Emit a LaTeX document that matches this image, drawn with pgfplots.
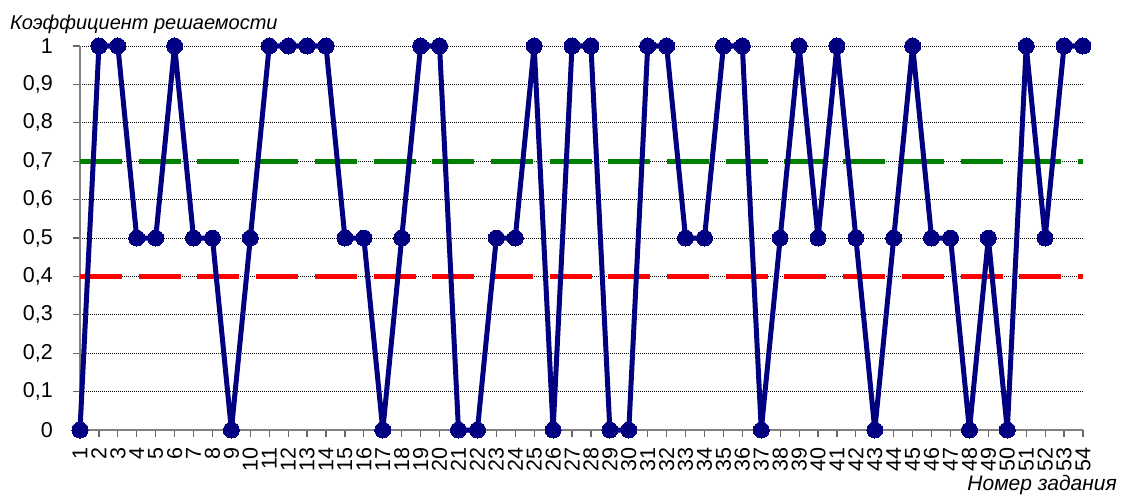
\documentclass[border=0pt]{standalone}
\usepackage{pgfplots}
\pgfplotsset{compat=1.18}
\usepackage{fontspec}
\setmainfont{Liberation Sans}
\newcommand\fs{\fontsize{21.5}{24}\selectfont}
\definecolor{navyc}{RGB}{0,0,128}
\definecolor{greenc}{RGB}{0,128,0}
\definecolor{redc}{RGB}{255,0,0}
\definecolor{axisgray}{RGB}{128,128,128}
\begin{document}
\begin{tikzpicture}
\useasboundingbox (-80pt,-69pt) rectangle (1041pt,430pt);
\begin{axis}[
  at={(0pt,0pt)}, anchor=south west,
  scale only axis, width=1003pt, height=384pt,
  xmin=1, xmax=54, ymin=0, ymax=1,
  clip=false,
  axis x line*=bottom, axis y line*=left,
  axis line style={axisgray, line width=1.5pt},
  tick align=outside, major tick length=7pt,
  tick style={black!60, line width=1.2pt},
  xtick={1,...,54},
  ytick={0,0.1,0.2,0.3,0.4,0.5,0.6,0.7,0.8,0.9,1},
  yticklabels={0,{0,1},{0,2},{0,3},{0,4},{0,5},{0,6},{0,7},{0,8},{0,9},1},
  xticklabels={1,2,3,4,5,6,7,8,9,10,11,12,13,14,15,16,17,18,19,20,21,22,23,24,25,26,27,28,29,30,31,32,33,34,35,36,37,38,39,40,41,42,43,44,45,46,47,48,49,50,51,52,53,54},
  ymajorgrids,
  grid style={black, line width=0.9pt, dash pattern=on 1pt off 1pt},
  yticklabel style={font=\fs, anchor=east, inner sep=0pt, xshift=-20pt},
  xticklabel style={font=\fs, rotate=90, anchor=east, inner sep=0pt, xshift=-10pt},
]
\addplot[redc, line width=5pt, dash pattern=on 42pt off 16.7pt] coordinates {(1,0.4) (54,0.4)};
\addplot[greenc, line width=5pt, dash pattern=on 42pt off 16.7pt] coordinates {(1,0.7) (54,0.7)};
\addplot[navyc, line width=5pt, mark=*, mark size=8pt, mark options={fill=navyc, draw=navyc, line width=0pt}] coordinates {
(1,0) (2,1) (3,1) (4,0.5) (5,0.5) (6,1) (7,0.5) (8,0.5) (9,0) (10,0.5)
(11,1) (12,1) (13,1) (14,1) (15,0.5) (16,0.5) (17,0) (18,0.5) (19,1) (20,1)
(21,0) (22,0) (23,0.5) (24,0.5) (25,1) (26,0) (27,1) (28,1) (29,0) (30,0)
(31,1) (32,1) (33,0.5) (34,0.5) (35,1) (36,1) (37,0) (38,0.5) (39,1) (40,0.5)
(41,1) (42,0.5) (43,0) (44,0.5) (45,1) (46,0.5) (47,0.5) (48,0) (49,0.5) (50,0)
(51,1) (52,0.5) (53,1) (54,1)};
\end{axis}
\node[anchor=base west, inner sep=0pt, font=\fontsize{20}{22}\selectfont\itshape] at (-70pt,400pt) {Коэффициент решаемости};
\node[anchor=base east, inner sep=0pt, font=\fontsize{21}{22}\selectfont\itshape] at (1037pt,-60pt) {Номер задания};
\end{tikzpicture}
\end{document}
